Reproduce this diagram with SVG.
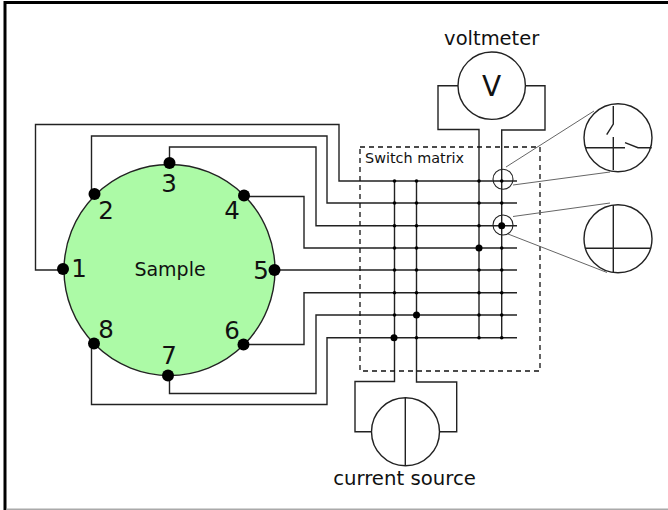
<svg xmlns="http://www.w3.org/2000/svg" width="668" height="510" viewBox="0 0 668 510">
<style>
.w{fill:none;stroke:#222;stroke-width:1.400}
.l{fill:none;stroke:#666;stroke-width:1}
.d{fill:#000}
.t{font-family:"DejaVu Sans",sans-serif;fill:#111}
.n{font-size:24.500px;text-anchor:middle}
.c{fill:#fff;stroke:#222;stroke-width:1.400}
</style>
<rect width="668" height="510" fill="#fff"/>
<path d="M5 510V2.500H668" fill="none" stroke="#000" stroke-width="3"/>
<path d="M6.500 509.300H668" fill="none" stroke="#aaa" stroke-width="1.500"/>
<g id="connectors">
<path class="w" d="M63 270H35.500V124.500H339V181H517"/>
<path class="w" d="M91.500 194V136H327V203H517"/>
<path class="w" d="M169.500 163V147H316V225.700H517"/>
<path class="w" d="M244 196.500H304V248H517"/>
<path class="w" d="M275 270H517"/>
<path class="w" d="M244 344.500H304V292.700H517"/>
<path class="w" d="M169.500 376V393.500H316V315H517"/>
<path class="w" d="M91.500 344V404.500H327V337.700H517"/>
<path class="w" d="M394.500 181V381.500H355V431.700H372"/>
<path class="w" d="M416.500 181V382H456.700V431.700H439"/>
<path class="w" d="M479 337.700V129.500H438V85.700H458"/>
<path class="w" d="M501.700 337.700V130H545V85.700H525"/>
<rect x="360" y="147" width="180" height="224" fill="none" stroke="#111" stroke-width="1.300" stroke-dasharray="5 4"/>
<path class="l" d="M506 167L594 111M513 185L610 172M513 216.500L610 203M508 234L607 272.500"/>
</g>
<g id="junctions" class="d">
<circle cx="394.500" cy="181" r="1.800"/><circle cx="416.500" cy="181" r="1.800"/><circle cx="479" cy="181" r="1.800"/><circle cx="501.700" cy="181" r="1.800"/>
<circle cx="394.500" cy="203" r="1.800"/><circle cx="416.500" cy="203" r="1.800"/><circle cx="479" cy="203" r="1.800"/><circle cx="501.700" cy="203" r="1.800"/>
<circle cx="394.500" cy="225.700" r="1.800"/><circle cx="416.500" cy="225.700" r="1.800"/><circle cx="479" cy="225.700" r="1.800"/><circle cx="501.700" cy="225.700" r="3.500"/>
<circle cx="394.500" cy="248" r="1.800"/><circle cx="416.500" cy="248" r="1.800"/><circle cx="479" cy="248" r="3.500"/><circle cx="501.700" cy="248" r="1.800"/>
<circle cx="394.500" cy="270" r="1.800"/><circle cx="416.500" cy="270" r="1.800"/><circle cx="479" cy="270" r="1.800"/><circle cx="501.700" cy="270" r="1.800"/>
<circle cx="394.500" cy="292.700" r="1.800"/><circle cx="416.500" cy="292.700" r="1.800"/><circle cx="479" cy="292.700" r="1.800"/><circle cx="501.700" cy="292.700" r="1.800"/>
<circle cx="394.500" cy="315" r="1.800"/><circle cx="416.500" cy="315" r="3.500"/><circle cx="479" cy="315" r="1.800"/><circle cx="501.700" cy="315" r="1.800"/>
<circle cx="394" cy="337.700" r="3.500"/><circle cx="416.500" cy="337.700" r="1.800"/><circle cx="479" cy="337.700" r="1.800"/><circle cx="501.700" cy="337.700" r="1.800"/>
</g>
<g id="sample">
<circle cx="169.500" cy="270" r="105.500" fill="#acfaa6" stroke="#222" stroke-width="1.400"/>
<text class="t" x="170" y="276" font-size="19" text-anchor="middle">Sample</text>
</g>
<g id="pin1"><circle class="d" cx="63" cy="269" r="6"/><text class="t n" x="79" y="277">1</text></g>
<g id="pin2"><circle class="d" cx="94.500" cy="194" r="6"/><text class="t n" x="106" y="219">2</text></g>
<g id="pin3"><circle class="d" cx="169.500" cy="163" r="6"/><text class="t n" x="169" y="191.500">3</text></g>
<g id="pin4"><circle class="d" cx="244" cy="195.500" r="6"/><text class="t n" x="232" y="219">4</text></g>
<g id="pin5"><circle class="d" cx="274.500" cy="270" r="6"/><text class="t n" x="261" y="279">5</text></g>
<g id="pin6"><circle class="d" cx="243.500" cy="344.500" r="6"/><text class="t n" x="232" y="339">6</text></g>
<g id="pin7"><circle class="d" cx="168" cy="375.500" r="6"/><text class="t n" x="169" y="364">7</text></g>
<g id="pin8"><circle class="d" cx="94" cy="343.500" r="6"/><text class="t n" x="106" y="337.500">8</text></g>
<g id="voltmeter">
<circle class="c" cx="491.700" cy="85.700" r="33.700"/>
<text class="t" x="491.700" y="96" font-size="28" text-anchor="middle">V</text>
<text class="t" x="491.700" y="45" font-size="19.500" text-anchor="middle">voltmeter</text>
</g>
<g id="current-source">
<circle class="c" cx="405.500" cy="431.700" r="34"/>
<path class="w" d="M405.300 398V465.500"/>
<text class="t" x="404.500" y="485" font-size="19.700" text-anchor="middle">current source</text>
</g>
<g id="switch-matrix-label"><text class="t" x="365" y="163" font-size="14.400">Switch matrix</text></g>
<g id="lens-open-marker"><circle cx="503" cy="179.300" r="10" fill="none" stroke="#222" stroke-width="1.100"/></g>
<g id="lens-closed-marker"><circle cx="503" cy="225" r="10" fill="none" stroke="#222" stroke-width="1.100"/></g>
<g id="open-switch">
<circle class="c" cx="618" cy="137.700" r="34"/>
<path class="w" d="M613.300 106V124L606.700 134.700M613.300 137V170M585 147.700H625M625 142.700L638 147.700H651.700"/>
</g>
<g id="closed-switch">
<circle class="c" cx="618" cy="238.700" r="34"/>
<path class="w" d="M613.300 205V272M585 248.300H651"/>
</g>
</svg>
